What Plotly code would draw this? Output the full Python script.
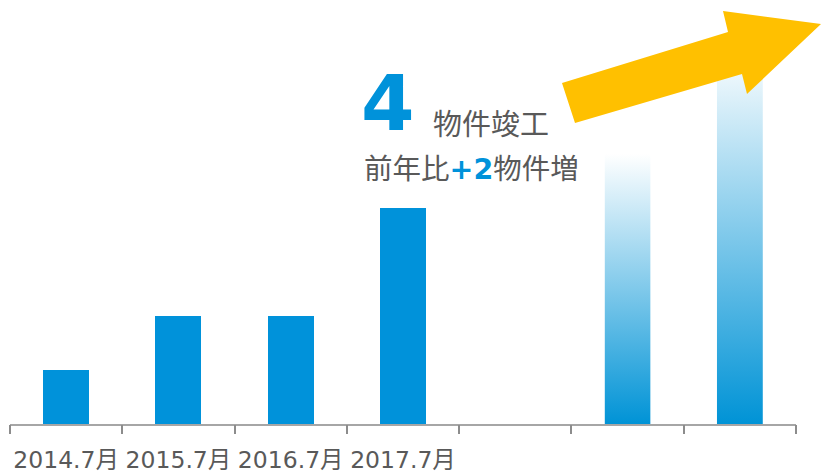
import base64
import plotly.graph_objects as go

# Completed properties per year (solid bars)
years = ["2014.7月", "2015.7月", "2016.7月", "2017.7月"]
completed = [1, 2, 2, 4]
# Projected slots (slot 4 left empty, slots 5 and 6 shown as fading bars)
proj_slots = [5, 6]
projected = [5, 7]
n_slots = 7

BLUE = "#0092DA"
GRAY_TEXT = "#595959"
BAR_W = 0.41

W, H = 821, 475
M_L, M_R, M_T, M_B = 10, 25, 0, 51
plot_w = W - M_L - M_R
plot_h = H - M_T - M_B
px_per_unit = 54.0
y_top = plot_h / px_per_unit


def px(x):
    return (x - M_L) / plot_w


def py(y):
    return (H - M_B - y) / plot_h


fig = go.Figure()

fig.add_trace(go.Bar(
    x=list(range(len(completed))), y=completed, width=BAR_W,
    marker=dict(color=BLUE, line=dict(width=0)), showlegend=False,
))
# Projected bars are painted with a vertical gradient image on top of an invisible bar
fig.add_trace(go.Bar(
    x=proj_slots, y=projected, width=BAR_W,
    marker=dict(color="rgba(0,0,0,0)", line=dict(width=0)), showlegend=False,
))

svg = (
    '<svg xmlns="http://www.w3.org/2000/svg" width="10" height="100" '
    'viewBox="0 0 10 100" preserveAspectRatio="none">'
    '<defs><linearGradient id="g" x1="0" y1="0" x2="0" y2="1">'
    '<stop offset="0" stop-color="#ffffff"/>'
    '<stop offset="1" stop-color="#0093d6"/>'
    '</linearGradient></defs>'
    '<rect x="0" y="0" width="10" height="100" fill="url(#g)"/></svg>'
)
grad_src = "data:image/svg+xml;base64," + base64.b64encode(svg.encode()).decode()

images = []
for xs, v in zip(proj_slots, projected):
    images.append(dict(
        source=grad_src, xref="x", yref="y",
        x=xs - BAR_W / 2, y=v, sizex=BAR_W, sizey=v,
        xanchor="left", yanchor="top", sizing="stretch", layer="below",
    ))

# Yellow trend arrow
arrow_pts = [(562, 83), (728, 32), (723, 11), (821, 24), (747, 94), (742, 74), (575, 123)]
path = "M " + " L ".join(f"{px(a):.5f},{py(b):.5f}" for a, b in arrow_pts) + " Z"

shapes = [dict(type="path", xref="paper", yref="paper", path=path,
               fillcolor="#FFC000", line=dict(width=0), layer="above")]

cjk = "Noto Sans CJK JP"
annotations = [
    dict(x=px(388), y=py(104), xref="paper", yref="paper", text="<b>4</b>",
         showarrow=False, xanchor="center", yanchor="middle",
         font=dict(family="DejaVu Sans", size=77, color=BLUE)),
    dict(x=px(491), y=py(122), xref="paper", yref="paper", text="物件竣工",
         showarrow=False, xanchor="center", yanchor="middle",
         font=dict(family=cjk, size=29, color=GRAY_TEXT)),
    dict(x=px(471), y=py(166), xref="paper", yref="paper",
         text=f"前年比<b><span style='color:{BLUE};font-family:DejaVu Sans'>+2</span></b>物件増",
         showarrow=False, xanchor="center", yanchor="middle",
         font=dict(family=cjk, size=28.5, color=GRAY_TEXT)),
]

fig.update_layout(
    width=W, height=H,
    margin=dict(l=M_L, r=M_R, t=M_T, b=M_B, pad=0, autoexpand=False),
    paper_bgcolor="white", plot_bgcolor="white",
    barmode="overlay", bargap=0,
    images=images, shapes=shapes, annotations=annotations,
    xaxis=dict(
        range=[-0.5, n_slots - 0.5], tickmode="array",
        tickvals=list(range(len(years))), ticktext=years,
        ticks="outside", ticklen=14, tickcolor="rgba(0,0,0,0)",
        showline=True, linecolor="#a6a6a6", linewidth=2,
        showgrid=False, zeroline=False, fixedrange=True, automargin=False,
        tickfont=dict(family="DejaVu Sans, " + cjk, size=23.5, color=GRAY_TEXT),
    ),
    xaxis2=dict(
        overlaying="x", anchor="y", side="bottom",
        range=[-0.5, n_slots - 0.5], tickmode="array",
        tickvals=[i - 0.5 for i in range(n_slots + 1)],
        ticks="outside", ticklen=9, tickwidth=2, tickcolor="#8c8c8c",
        showticklabels=False, showline=False, showgrid=False, zeroline=False,
        automargin=False,
    ),
    yaxis=dict(range=[0, y_top], visible=False, showgrid=False, zeroline=False),
)

# invisible trace to attach the boundary tick axis
fig.add_trace(go.Scatter(x=[None], y=[None], xaxis="x2", showlegend=False, hoverinfo="skip"))

fig.write_html("out.html")
